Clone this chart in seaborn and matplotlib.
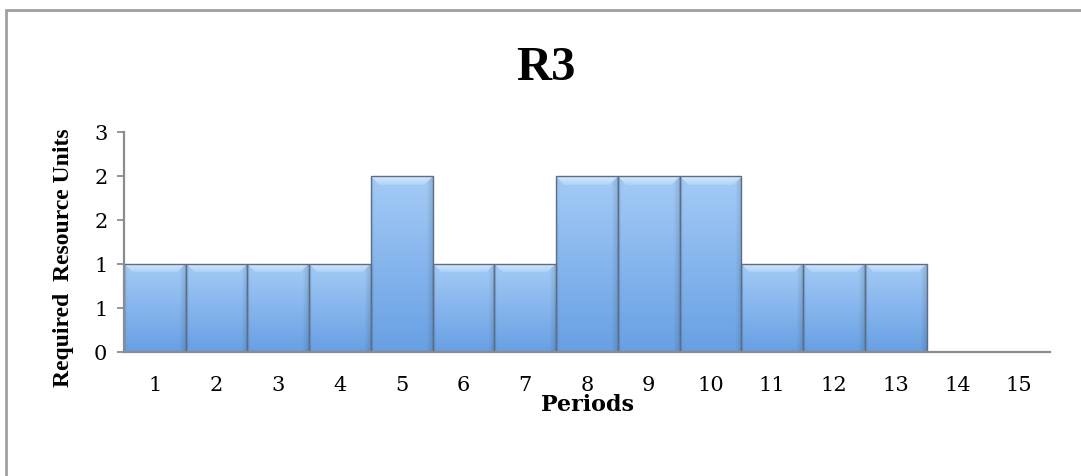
import numpy as np
import pandas as pd
import matplotlib
matplotlib.use("Agg")
import matplotlib.pyplot as plt
import seaborn as sns

periods = ["1", "2", "3", "4", "5", "6", "7", "8", "9", "10", "11", "12", "13", "14", "15"]
units = [1, 1, 1, 1, 2, 1, 1, 2, 2, 2, 1, 1, 1, 0, 0]
y_ticks = [0, 0.5, 1.0, 1.5, 2.0, 2.5]
y_tick_labels = ["0", "1", "1", "2", "2", "3"]

sns.set_theme(style="white")
plt.rcParams["font.family"] = ["Liberation Serif", "DejaVu Serif"]
plt.rcParams["text.color"] = "black"
plt.rcParams["axes.labelcolor"] = "black"

df = pd.DataFrame({"Periods": periods, "Units": units})

W, H = 1081, 476
fig = plt.figure(figsize=(W / 100, H / 100), dpi=100)
ax = fig.add_axes([124 / W, 1 - 352 / H, (1050 - 124) / W, (352 - 132) / H])

sns.barplot(data=df, x="Periods", y="Units", order=periods, width=1.0,
            color="#8ab8ee", edgecolor="#5b6e86", linewidth=1.0, ax=ax, zorder=2)

ax.set_ylim(0, 2.5)
ax.set_xlim(-0.5, len(periods) - 0.5)


def bar_texture(h_px, w_px):
    h_px = max(int(h_px), 2)
    w_px = max(int(w_px), 2)
    t = np.linspace(0, 1, h_px)[:, None]
    top = np.array([164, 203, 246]) / 255.0
    bot = np.array([104, 160, 228]) / 255.0
    img = top[None, None, :] * (1 - t[..., None]) + bot[None, None, :] * t[..., None]
    img = np.repeat(img, w_px, axis=1)
    # darker rim on the right and left sides
    x = np.linspace(0, 1, w_px)[None, :]
    side = np.clip((x - 0.9) / 0.1, 0, 1) * 0.12 + np.clip((0.06 - x) / 0.06, 0, 1) * 0.05
    img = img * (1 - side[..., None])
    # light bevel across the top with chamfered corners
    bevel = 9
    yy = np.arange(h_px)[:, None]
    xx = np.arange(w_px)[None, :]
    dist_edge = np.minimum(xx, w_px - 1 - xx)
    in_bevel = (yy < bevel) & (yy <= dist_edge)
    strength = np.clip(1 - yy / bevel, 0, 1) * 0.55 + 0.15
    light = np.array([235, 245, 255]) / 255.0
    mix = np.where(in_bevel, strength, 0.0)[..., None]
    img = img * (1 - mix) + light[None, None, :] * mix
    return np.clip(img, 0, 1)


fig.canvas.draw()
px_per_unit_y = ax.transData.transform((0, 1))[1] - ax.transData.transform((0, 0))[1]
px_per_unit_x = ax.transData.transform((1, 0))[0] - ax.transData.transform((0, 0))[0]
for patch in ax.patches:
    x0, y0 = patch.get_x(), patch.get_y()
    w, h = patch.get_width(), patch.get_height()
    if h <= 0:
        continue
    tex = bar_texture(h * px_per_unit_y, w * px_per_unit_x)
    im = ax.imshow(tex, extent=(x0, x0 + w, y0, y0 + h), aspect="auto",
                   zorder=1.9, interpolation="bilinear")
    im.set_clip_path(patch)
    patch.set_facecolor("none")
ax.set_xlim(-0.5, len(periods) - 0.5)
ax.set_ylim(0, 2.5)

ax.set_yticks(y_ticks)
ax.set_yticklabels(y_tick_labels)
ax.tick_params(axis="y", which="major", length=5, width=1.3, color="#8c8c8c",
               direction="out", labelsize=15, pad=7, left=True)
ax.tick_params(axis="x", length=0, labelsize=15, pad=17)
for lab in ax.get_xticklabels() + ax.get_yticklabels():
    lab.set_color("black")
    lab.set_family("DejaVu Serif")

for side in ["top", "right"]:
    ax.spines[side].set_visible(False)
for side in ["left", "bottom"]:
    ax.spines[side].set_color("#8c8c8c")
    ax.spines[side].set_linewidth(1.6)
    ax.spines[side].set_zorder(3)

ax.set_xlabel("")
ax.set_ylabel("")
ax.grid(False)

fig.text(588 / W, 1 - 405 / H, "Periods", fontsize=16, fontweight="bold",
         family="DejaVu Serif", ha="center", va="center")
fig.text(64 / W, 1 - 258 / H, "Required  Resource Units", fontsize=17, fontweight="bold",
         ha="center", va="center", rotation=90)
fig.text(546 / W, 1 - 68 / H, "R3", fontsize=35, fontweight="bold",
         ha="center", va="center")

# chart frame
frame = plt.Rectangle((6 / W, -0.1), 1.2, 1 - 10 / H + 0.1, transform=fig.transFigure,
                      fill=False, edgecolor="#a0a0a0", linewidth=2.0)
fig.add_artist(frame)

fig.savefig("out.png", dpi=100)
